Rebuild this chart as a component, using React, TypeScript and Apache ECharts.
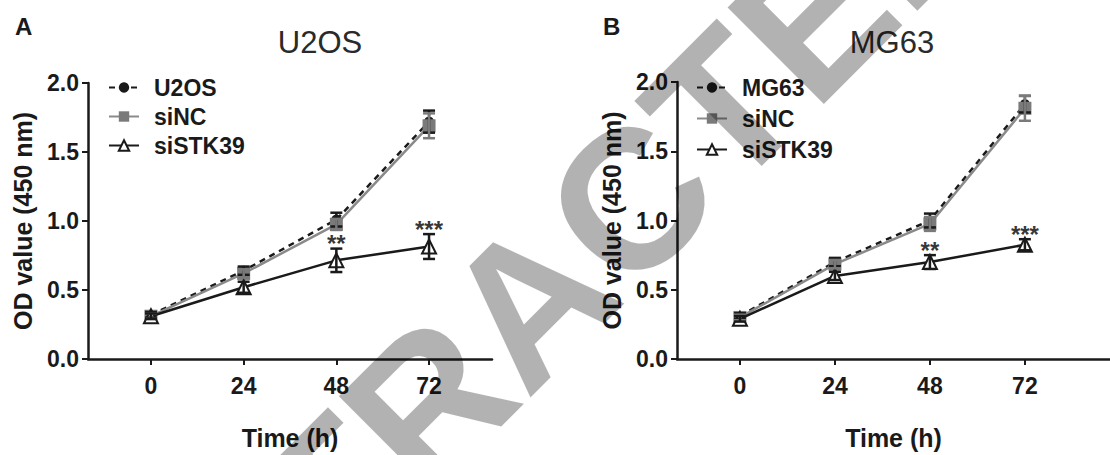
import React, { useEffect, useRef } from "react";
import * as echarts from "echarts";

const hours = [0, 24, 48, 72];
const yTicks = [0, 0.5, 1.0, 1.5, 2.0];

// Panel A (U2OS)
const aCtrlMean = [0.32, 0.64, 1.01, 1.72];
const aCtrlErr = [0.02, 0.03, 0.05, 0.08];
const aNCMean = [0.31, 0.62, 0.975, 1.69];
const aNCErr = [0.02, 0.03, 0.04, 0.09];
const aKDMean = [0.31, 0.52, 0.715, 0.815];
const aKDErr = [0.02, 0.04, 0.085, 0.09];
const aStars = ["", "", "**", "***"];

// Panel B (MG63)
const bCtrlMean = [0.31, 0.70, 1.0, 1.84];
const bCtrlErr = [0.02, 0.03, 0.05, 0.06];
const bNCMean = [0.30, 0.685, 0.975, 1.81];
const bNCErr = [0.02, 0.03, 0.05, 0.09];
const bKDMean = [0.29, 0.60, 0.70, 0.825];
const bKDErr = [0.02, 0.03, 0.05, 0.04];
const bStars = ["", "", "**", "***"];

const panelTitles = ["U2OS", "MG63"];
const panelLetters = ["A", "B"];
const legendA = ["U2OS", "siNC", "siSTK39"];
const legendB = ["MG63", "siNC", "siSTK39"];
const watermark = "RETRACTED";

const FONT = '"Liberation Sans", Arial, Helvetica, sans-serif';
const DARK = "#1a1a1a";
const GRAY = "#7a7a7a";

function pts(mean: number[]) {
  return hours.map((h, i) => [h, mean[i]]);
}
function errPts(mean: number[], err: number[]) {
  return hours.map((h, i) => [h, mean[i], err[i]]);
}

function errSeries(idx: number, mean: number[], err: number[], color: string) {
  return {
    type: "custom",
    xAxisIndex: idx,
    yAxisIndex: idx,
    z: 6,
    silent: true,
    encode: { x: 0, y: 1 },
    data: errPts(mean, err),
    renderItem: (params: any, api: any) => {
      const x = api.value(0);
      const m = api.value(1);
      const e = api.value(2);
      const top = api.coord([x, m + e]);
      const bot = api.coord([x, m - e]);
      const half = 6;
      const st = { stroke: color, lineWidth: 2.5 };
      return {
        type: "group",
        children: [
          { type: "line", shape: { x1: top[0], y1: top[1], x2: bot[0], y2: bot[1] }, style: st },
          { type: "line", shape: { x1: top[0] - half, y1: top[1], x2: top[0] + half, y2: top[1] }, style: st },
          { type: "line", shape: { x1: bot[0] - half, y1: bot[1], x2: bot[0] + half, y2: bot[1] }, style: st },
        ],
      };
    },
  };
}

function lineSeries(idx: number, name: string, mean: number[], kind: string) {
  const base: any = {
    type: "line",
    name,
    xAxisIndex: idx,
    yAxisIndex: idx,
    data: pts(mean),
    silent: true,
  };
  if (kind === "ctrl") {
    return {
      ...base,
      z: 3,
      symbol: "circle",
      symbolSize: 10,
      itemStyle: { color: DARK },
      lineStyle: { color: DARK, width: 2.5, type: [6, 5] },
    };
  }
  if (kind === "nc") {
    return {
      ...base,
      z: 4,
      symbol: "rect",
      symbolSize: 13,
      itemStyle: { color: GRAY },
      lineStyle: { color: "#8a8a8a", width: 2.5 },
    };
  }
  return {
    ...base,
    z: 5,
    symbol: "triangle",
    symbolSize: 14,
    itemStyle: { color: "#ffffff", borderColor: DARK, borderWidth: 2 },
    lineStyle: { color: DARK, width: 2.5 },
  };
}

function starSeries(idx: number, mean: number[], err: number[], stars: string[]) {
  return {
    type: "scatter",
    xAxisIndex: idx,
    yAxisIndex: idx,
    symbolSize: 0,
    silent: true,
    z: 7,
    data: hours
      .map((h, i) => [h, mean[i] + err[i], stars[i]])
      .filter((d) => d[2] !== ""),
    label: {
      show: true,
      position: "top",
      distance: -7,
      formatter: (p: any) => p.value[2],
      fontSize: 24,
      fontWeight: "bold",
      fontFamily: FONT,
      color: "#000000",
    },
  };
}

function xAxis(idx: number, min: number, max: number) {
  return {
    gridIndex: idx,
    type: "value",
    min,
    max,
    axisLine: { onZero: false, lineStyle: { color: DARK, width: 2.5 } },
    axisTick: { customValues: hours, length: 6, lineStyle: { color: DARK, width: 2 } },
    axisLabel: {
      customValues: hours,
      margin: 15,
      fontSize: 23,
      fontWeight: "bold",
      fontFamily: FONT,
      color: DARK,
    },
    splitLine: { show: false },
    name: "Time (h)",
    nameLocation: "middle",
    nameGap: 66,
    nameTextStyle: { fontSize: 25, fontWeight: "bold", fontFamily: FONT, color: DARK },
  };
}

function yAxis(idx: number) {
  return {
    gridIndex: idx,
    type: "value",
    min: yTicks[0],
    max: yTicks[yTicks.length - 1],
    interval: 0.5,
    axisLine: { show: true, onZero: false, lineStyle: { color: DARK, width: 2.5 } },
    axisTick: { show: true, length: 6, lineStyle: { color: DARK, width: 2 } },
    axisLabel: {
      margin: 9,
      fontSize: 23,
      fontWeight: "bold",
      fontFamily: FONT,
      color: DARK,
      formatter: (v: number) => v.toFixed(1),
    },
    splitLine: { show: false },
    name: "OD value (450 nm)",
    nameLocation: "middle",
    nameGap: 53,
    nameTextStyle: { fontSize: 25, fontWeight: "bold", fontFamily: FONT, color: DARK },
  };
}

function legend(data: string[], left: number, top: number, gap: number) {
  return {
    data,
    left,
    top,
    orient: "vertical",
    itemWidth: 30,
    itemHeight: 13,
    itemGap: gap,
    selectedMode: false,
    textStyle: {
      fontSize: 23,
      fontWeight: "bold",
      fontFamily: FONT,
      color: DARK,
      padding: [0, 0, 0, 10],
    },
  };
}

export default function App() {
  const ref = useRef<HTMLDivElement>(null);
  useEffect(() => {
    if (!ref.current) return;
    const chart = echarts.init(ref.current, undefined, { renderer: "svg" });
    const option: any = {
      animation: false,
      backgroundColor: "#ffffff",
      title: [
        {
          text: panelTitles[0],
          left: 315,
          top: 22,
          textAlign: "center",
          textStyle: { fontSize: 31, fontWeight: "normal", fontFamily: FONT, color: "#2a2a2a" },
        },
        {
          text: panelTitles[1],
          left: 887,
          top: 22,
          textAlign: "center",
          textStyle: { fontSize: 31, fontWeight: "normal", fontFamily: FONT, color: "#2a2a2a" },
        },
        {
          text: panelLetters[0],
          left: 10,
          top: 9,
          textStyle: { fontSize: 24, fontWeight: "bold", fontFamily: FONT, color: DARK },
        },
        {
          text: panelLetters[1],
          left: 598,
          top: 9,
          textStyle: { fontSize: 24, fontWeight: "bold", fontFamily: FONT, color: DARK },
        },
      ],
      grid: [
        { left: 88, top: 83, width: 404, height: 287 },
        { left: 677, top: 82, width: 433, height: 289 },
      ],
      xAxis: [xAxis(0, -16.3, 88.3), xAxis(1, -15.9, 93.5)],
      yAxis: [yAxis(0), yAxis(1)],
      legend: [legend(legendA, 103, 71, 6), legend(legendB, 691, 71, 8)],
      series: [
        lineSeries(0, legendA[0], aCtrlMean, "ctrl"),
        lineSeries(0, legendA[1], aNCMean, "nc"),
        lineSeries(0, legendA[2], aKDMean, "kd"),
        errSeries(0, aCtrlMean, aCtrlErr, DARK),
        errSeries(0, aNCMean, aNCErr, GRAY),
        errSeries(0, aKDMean, aKDErr, DARK),
        starSeries(0, aKDMean, aKDErr, aStars),
        lineSeries(1, legendB[0], bCtrlMean, "ctrl"),
        lineSeries(1, legendB[1], bNCMean, "nc"),
        lineSeries(1, legendB[2], bKDMean, "kd"),
        errSeries(1, bCtrlMean, bCtrlErr, DARK),
        errSeries(1, bNCMean, bNCErr, GRAY),
        errSeries(1, bKDMean, bKDErr, DARK),
        starSeries(1, bKDMean, bKDErr, bStars),
      ],
      graphic: [
        {
          type: "text",
          x: 529,
          y: 302,
          rotation: Math.PI / 4,
          z: 100,
          silent: true,
          style: {
            text: watermark,
            font: 'bold 198px "Liberation Sans", Arial, sans-serif',
            fill: "rgba(0,0,0,0.3)",
            align: "center",
            verticalAlign: "middle",
          },
        },
      ],
    };
    chart.setOption(option);
    return () => chart.dispose();
  }, []);
  return (
    <div
      ref={ref}
      style={{ position: "absolute", left: 0, top: 0, width: 1110, height: 455 }}
    />
  );
}
